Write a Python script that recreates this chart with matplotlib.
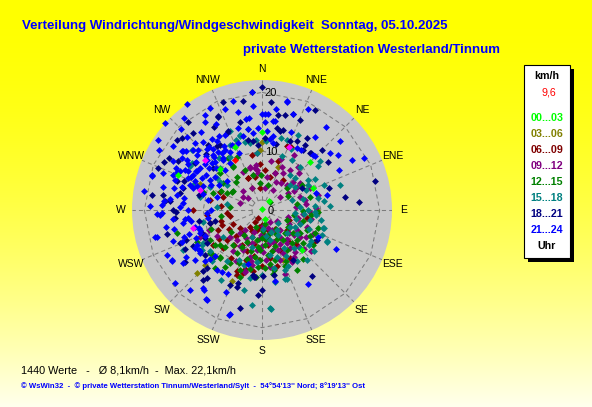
import numpy as np
import matplotlib
matplotlib.use('Agg')
import matplotlib.pyplot as plt
from matplotlib.patches import Rectangle

plt.rcParams['font.family'] = ['Liberation Sans', 'DejaVu Sans']

w_21_24 = [
    (325, 22.1), (312, 22.2), (304, 21.4), (279, 20.3), (287, 19.5), (329, 18.8), (355, 20.1),
    (13, 18.8), (24.6, 18.9), (8, 17.4), (18, 17.2), (0, 16.4), (350, 15.7), (346, 17.1),
    (352, 15.8), (275, 16.8), (267, 17.3), (268, 17.9), (268, 17.0), (256, 18.7), (255.5, 18.5),
    (241, 17.5), (236, 16.1), (216, 16.8), (212, 17.9), (217, 16.6), (197.5, 18.7), (235, 12.8),
    (148, 14.9), (116, 10.6), (170, 12.3), (48.6, 17.7), (60.7, 17.5), (62.5, 14.8), (50, 15.1),
    (54, 16.0), (42.8, 12.8), (44.7, 12.8), (33, 12.2), (76.7, 11.3), (72.7, 9.7), (29, 12.1),
    (12.8, 19.0), (7.3, 15.2), (8.3, 15.3), (3.8, 16.4), (1.8, 16.3), (3.4, 13.4), (8.7, 12.7),
    (6.5, 12.1), (9.6, 11.6),
    (307, 16.8), (306.4, 17.0), (287.7, 19.7), (290.5, 17.9), (291.7, 16.2), (295.3, 15.4),
    (297.6, 14.8), (293.5, 13.7), (289.4, 13.0), (293, 12.4), (297, 13.1), (300.7, 12.9),
    (304, 12.7), (312.3, 12.7), (313, 11.7), (318.6, 12.5), (323.3, 12.4), (324.7, 11.9),
    (323.3, 11.0), (328.5, 12.0), (335, 12.2), (340.5, 12.1), (345.8, 12.9), (350.3, 13.9),
    (353.6, 13.2), (357.4, 14.0), (272, 19.1), (273, 17.1), (275, 13.4), (270, 12.5),
    (278.7, 13.5), (304, 15.3), (301, 13.0), (318, 12.2), (329, 12.6), (326, 9.6), (295, 13.4),
    (290, 11.8), (281, 9.3), (272, 13.9), (263, 13.2), (252, 13.1), (242, 12.6), (252, 11.0),
    (260.6, 13.6), (250.5, 16.0), (244.7, 17.9), (240.7, 17.6), (264, 12.6), (261, 12.2),
    (256, 11.7), (254, 11.2), (250, 11.2), (240.4, 13.1), (238, 12.7), (236.5, 12.6), (267, 9.4),
    (270, 8.6), (211.7, 17.9), (228, 13.0), (226.9, 12.1), (217.2, 12.7), (213, 12.5), (194, 9.5),
    (197, 18.4), (310, 14.5), (315, 16.0), (320, 14.0), (308, 11.5), (300, 10.2), (296, 16.3),
    (284, 15.5), (298, 11.5), (305, 9.8), (312, 10.6), (317, 9.3), (322, 10.8), (334, 14.2),
    (338, 10.4), (332, 16.5), (340, 18.2), (344, 14.5), (315, 19.5), (320, 20.5), (300, 20.3),
    (262, 9.2), (258, 15.3), (248, 14.6), (245, 10.6), (226, 11.2), (222, 18.3), (230, 19.4),
    (204, 15.2), (208, 12.3), (286, 8.0), (300, 8.4), (310, 7.8), (118, 14.3),
    (286, 14.2), (288, 12.3), (292, 10.8), (294, 15.8), (298, 14.2), (302, 11.2), (303, 16.2),
    (306, 13.8), (309, 12.4), (311, 15.6), (314, 13.2), (316, 11.4), (319, 15.3), (321, 13.3),
    (325, 14.8), (327, 13.9), (330, 14.5), (331, 11.2), (280, 14.6), (277, 15.8), (283, 17.2),
    (289, 15.6), (299, 17.3), (306, 18.6), (314, 17.8), (260, 16.5), (264, 15.2), (247, 12.2),
    (251, 14.1), (238, 15.2), (233, 14.2), (285, 10.3), (296, 9.6), (302, 14.8), (308, 16.4),
    (318, 13.9), (313, 14.9), (322, 16.8), (327, 17.9), (333, 19.4), (345, 19.2), (2, 15.0),
    (355, 17.8), (20, 14.2), (36, 15.4), (38, 17.8), (63, 19.5),
]
w_18_21 = [
    (360, 20.9), (355, 20.2), (320, 19.5), (335, 17.5), (296, 18.6), (278, 18.9), (309.5, 18.8),
    (311.9, 18.3), (299, 18.1), (288.6, 15.3), (290, 14.2), (285.6, 13.9), (281.7, 14.2),
    (278.8, 17.0), (275.4, 15.7), (270, 15.1), (324.6, 13.3), (327.3, 13.2), (310.8, 10.9),
    (320.6, 14.4), (335.4, 14.4), (336.8, 14.6), (335, 17.6), (346, 15.5), (349, 12.2),
    (352.8, 11.8), (356.8, 11.1), (23, 16.6), (18, 17.2), (13.6, 16.6), (9.7, 16.4), (10, 14.2),
    (13, 13.7), (15, 14.0), (22.2, 12.6), (26.8, 13.1), (31.8, 14.4), (33.4, 13.3), (34.4, 12.4),
    (40, 12.7), (40.7, 12.8), (75.7, 19.8), (81, 14.3), (71.8, 12.0), (61, 7.7), (269, 14.7),
    (256, 16.7), (248, 15.0), (248.5, 13.8), (243, 14.7), (242, 13.2), (249, 11.0), (244, 10.8),
    (239, 10.9), (256, 9.1), (256.5, 8.2), (220, 15.5), (219, 14.9), (223.8, 14.4), (223.7, 13.6),
    (203, 13.8), (198, 13.8), (182.5, 14.5), (192.7, 17.0), (187, 11.4), (180, 13.6),
    (187.6, 11.2), (186, 11.4), (148, 10.0), (143, 14.1), (179, 11.3), (170, 11.3), (118.8, 10.6),
    (198, 13.0), (275, 16.6), (330, 16.2), (340, 19.5), (5, 18.5), (28, 19.2), (300, 16.5),
    (292, 19.0), (305, 14.0), (315, 13.5), (283, 11.0), (265, 14.8), (260, 10.8), (232, 12.3),
    (236, 15.8), (318, 17.5), (350, 18.8), (2, 12.3), (12, 11.5), (45, 14.5), (54, 13.8), (85, 16.5),
]
w_15_18 = [
    (343.6, 13.3), (340, 12.7), (333.8, 12.3), (310.6, 15.7), (303.8, 14.4), (301.3, 14.3),
    (305, 9.4), (304, 8.6), (305.6, 7.4), (343.4, 13.1), (346, 12.0), (329, 10.6), (294, 9.7),
    (282, 10.8), (274, 7.7), (279, 6.1), (243.4, 15.1), (240, 11.8), (224.6, 12.2), (231.5, 11.3),
    (240.4, 11.5), (236.4, 12.3), (235.4, 8.0), (193, 13.9), (186, 16.2), (175, 16.9),
    (175.3, 16.8), (170, 12.4), (161.5, 12.4), (160, 12.4), (106, 10.9), (116.5, 12.3), (50, 12.9),
    (52.2, 12.1), (61.4, 9.0), (86, 9.0), (72.4, 13.9), (20, 9.7), (30.7, 9.9), (15, 12.6),
    (19.4, 12.6), (25.8, 14.2), (350, 11.5), (355, 12.0), (3, 11.8), (143.7, 4.2), (133.3, 5.8),
    (120.8, 5.5), (95.7, 5.6), (95.5, 7.1), (101.8, 8.3), (95, 9.3), (106.6, 10.9), (116, 12.2),
    (127, 9.9), (159, 10.9), (162.5, 8.3), (38.7, 7.6), (46, 7.8), (41.3, 9.8), (57, 9.4),
    (67.8, 11.3), (78.3, 9.8), (87, 11.6), (48, 6.4), (71.4, 5.3), (92, 9.0), (112.7, 11.0),
    (135, 9.2), (150, 7.5), (140, 8.5), (125, 7.2), (110, 6.8), (170, 7.8), (185, 8.8), (195, 6.5),
    (205, 9.3), (215, 10.5), (200, 4.8), (165, 5.2), (130, 3.5), (85, 6.5), (65, 8.2), (355, 9.8),
    (320, 11.5), (315, 10.0), (290, 12.5), (258, 10.2), (176, 3.2), (155, 10.5), (210, 13.8),
    (145, 10.5), (138, 11.5), (128, 11.3), (122, 9.8), (118, 6.3), (112, 8.6), (104, 6.0),
    (100, 10.2), (90, 7.8), (82, 10.6), (75, 7.2), (60, 10.5), (55, 6.8), (168, 10.0), (180, 11.0),
    (190, 11.8), (198, 9.8), (152, 8.8), (147, 5.0), (157, 4.0), (172, 4.5), (350, 14.0),
    (338, 14.5), (25, 11.5),
]
w_12_15 = [
    (255, 15.0), (230, 11.5), (225.4, 11.6), (221, 10.8), (198, 11.9), (244, 12.3), (240, 10.2),
    (230, 9.3), (229, 11.3), (222, 10.7), (219, 12.7), (190, 5.2), (175, 6.0), (183, 6.8),
    (172, 7.7), (182.3, 8.5), (171.5, 9.2), (112, 4.5), (122.4, 5.3), (131, 7.8), (121.5, 7.6),
    (114, 8.3), (129, 9.0), (113.7, 9.8), (169, 10.4), (184, 9.7), (200, 10.9), (211, 10.6),
    (311, 9.5), (326.5, 8.8), (337, 7.4), (322.8, 7.1), (304.6, 8.0), (301, 6.0), (289, 8.8),
    (287, 10.5), (346, 6.1), (356, 4.6), (44, 2.0), (48.7, 5.6), (57.8, 8.0), (74.5, 8.5),
    (91.7, 9.6), (92, 7.0), (359, 6.0), (14, 4.4), (326.7, 10.5), (326.7, 8.9), (295, 7.6),
    (296, 6.7), (303, 5.8), (160, 6.5), (165, 8.8), (155, 9.5), (150, 4.8), (145, 6.2), (140, 10.8),
    (135, 5.5), (178, 3.5), (188, 8.0), (195, 7.2), (205, 6.0), (210, 8.5), (215, 5.2), (220, 7.8),
    (235, 6.5), (200, 3.0), (168, 2.5), (125, 10.5), (105, 7.2), (98, 5.5), (80, 6.0), (62, 5.0),
    (150, 11.8), (185, 11.5), (170, 11.0), (250, 9.2), (262, 7.0), (275, 5.5),
    (148, 8.0), (153, 5.6), (158, 10.3), (163, 4.2), (167, 7.2), (173, 5.0), (177, 9.8),
    (181, 4.8), (186, 6.3), (192, 10.2), (197, 8.7), (203, 9.8), (208, 7.2), (213, 11.5),
    (138, 7.5), (142, 4.0), (127, 6.5), (118, 9.3), (108, 10.0), (96, 8.3), (225, 9.0),
    (233, 10.0), (318, 6.5), (335, 10.0),
]
w_09_12 = [
    (334, 7.2), (344, 7.4), (353, 7.7), (350, 7.2), (27, 5.4), (36, 5.6), (44.6, 6.0), (48, 7.2),
    (55, 7.9), (249.6, 9.7), (246, 10.6), (246.7, 11.5), (223.4, 5.4), (220.4, 4.5), (220, 6.7),
    (202.4, 6.1), (205, 7.5), (194.4, 8.2), (170, 4.6), (160.4, 5.7), (146, 5.5), (154, 3.8),
    (143.4, 7.0), (143.8, 8.1), (153.8, 8.2), (146, 9.6), (120, 6.8), (109, 6.8), (110.5, 8.1),
    (125, 7.9), (344.5, 7.6), (352.5, 6.9), (8, 5.7), (19.5, 6.6), (30, 7.2), (35, 8.3), (56, 7.1),
    (70.7, 6.8), (77, 7.5), (57.6, 5.3), (53.5, 3.8), (29.5, 3.9), (8, 3.7), (334.6, 4.1),
    (287, 3.9), (305.4, 3.9), (315, 4.5), (311, 3.1), (346, 6.2), (354, 6.3), (195.5, 10.8),
    (195.4, 10.9), (165, 7.0), (175, 8.5), (180, 6.2), (185, 5.0), (190, 9.5), (200, 4.0),
    (210, 5.5), (215, 8.5), (230, 7.2), (240, 8.8), (135, 8.8), (130, 6.0), (138, 4.5), (150, 10.2),
    (160, 9.0), (115, 9.5), (100, 8.5), (95, 7.0), (88, 9.2), (85, 5.8), (65, 9.0), (60, 6.3),
    (40, 9.5), (20, 9.2), (10, 8.5), (125, 3.2), (105, 4.5), (175, 2.8), (160, 11.5), (130, 10.8),
    (145, 2.5), (30, 10.8), (355, 9.8),
    (148, 4.2), (152, 6.5), (158, 7.3), (162, 3.2), (168, 5.8), (172, 9.8), (178, 7.2), (183, 4.2),
    (187, 6.8), (192, 8.8), (197, 5.8), (207, 9.8), (212, 7.2), (118, 5.2), (122, 8.8), (128, 7.0),
    (133, 9.8), (139, 6.5), (142, 9.0), (102, 6.2), (92, 8.2), (82, 7.6), (75, 9.8), (45, 8.8),
    (25, 8.0),
]
w_06_09 = [
    (270, 11.7), (265, 9.4), (256, 9.1), (245.4, 8.2), (249.6, 7.3), (234.3, 10.2), (225.3, 9.3),
    (229.6, 7.9), (215.7, 3.5), (211, 2.3), (204, 1.5), (181, 2.6), (195, 3.5), (201, 4.9),
    (129, 5.4), (100.5, 7.7), (121.7, 10.3), (155.8, 7.5), (180, 9.6), (196.5, 11.2), (162.5, 3.6),
    (293.5, 7.8), (289, 7.0), (281, 9.0), (336.6, 5.9), (357.5, 7.9), (18.6, 8.7), (21.3, 11.6),
    (25, 11.8), (35.4, 6.3), (337, 5.9), (348, 5.8), (13.5, 5.8), (19.5, 6.6), (355, 3.8),
    (202.4, 11.3), (196, 10.5), (201.3, 11.9), (185, 6.5), (190, 8.0), (175, 5.0), (170, 8.2),
    (210, 6.8), (220, 5.2), (200, 7.5), (230, 4.8), (240, 6.5), (260, 5.5), (275, 7.0), (150, 9.5),
    (140, 6.8), (160, 5.8), (110, 4.8), (188, 10.5),
    (178, 4.0), (183, 8.5), (193, 6.0), (198, 9.0), (205, 4.0), (213, 9.8), (218, 7.6), (225, 6.2),
    (236, 8.8), (245, 5.5), (255, 7.2), (265, 6.0), (170, 6.0), (165, 9.8), (145, 4.0), (135, 8.2),
    (190, 3.0), (5, 6.8), (350, 9.5),
]
w_03_06 = [
    (0, 11.6), (334.6, 4.1), (90, 9.3), (226, 13.5), (226, 15.4), (157, 9.2), (203, 13.2),
    (292.7, 11.4), (21, 7.8), (358, 10.2),
]
w_00_03 = [
    (35.6, 1.95), (0, 0.1), (160, 1.7), (44.8, 11.6), (66.5, 9.5), (292.7, 15.4), (314.5, 10.0),
    (336.7, 11.6), (135, 9.6), (0, 13.2),
]
w_sonst = [(311.4, 12.9), (288, 11.1), (255, 12.1), (23.5, 11.6)]
w_aktuell = [(332, 9.7)]

stunden = ['00...03', '03...06', '06...09', '09...12', '12...15', '15...18', '18...21', '21...24']
farben = ['#00ff00', '#808000', '#800000', '#800080', '#008000', '#008080', '#000080', '#0000ff']
werte = [w_00_03, w_03_06, w_06_09, w_09_12, w_12_15, w_15_18, w_18_21, w_21_24]
richtungen = ['N', 'NNE', 'NE', 'ENE', 'E', 'ESE', 'SE', 'SSE',
              'S', 'SSW', 'SW', 'WSW', 'W', 'WNW', 'NW', 'NNW']

W, H = 592, 407
RMAX = 22.1


def fp(x, y):
    # Pixelposition -> Figurkoordinaten
    return x / W, 1 - y / H


fig = plt.figure(figsize=(W / 100, H / 100), dpi=100)

# Hintergrund: gelber Verlauf
bg = fig.add_axes([0, 0, 1, 1])
t = np.linspace(0, 1, H)
blau = 0.93 * t ** 1.8
grad = np.stack([np.ones_like(t), np.ones_like(t), blau], axis=1)[:, None, :]
bg.imshow(grad, aspect='auto', extent=[0, 1, 0, 1])
bg.axis('off')

# Polardiagramm
cx, cy, rad = 262, 210, 130
ax = fig.add_axes([(cx - rad) / W, (H - cy - rad) / H, 2 * rad / W, 2 * rad / H],
                  projection='polar')
ax.set_theta_zero_location('N')
ax.set_theta_direction(-1)
ax.set_ylim(0, RMAX)
ax.set_facecolor('#c8c8c8')
ax.grid(False)
ax.set_xticks([])
ax.set_yticks([])
ax.spines['polar'].set_visible(False)

gitter = dict(color='#7c7c7c', lw=0.75, ls=(0, (4, 3)))
th16 = np.deg2rad(np.arange(16) * 22.5)
for r in [10, 20]:
    ax.plot(np.append(th16, th16[0]), np.full(17, r), **gitter)
kreis = np.linspace(0, 2 * np.pi, 40)
ax.plot(kreis, np.full(40, 1.7), **gitter)
for th in th16:
    ax.plot([th, th], [1.7, RMAX], **gitter)

for daten, farbe in list(zip(werte, farben))[1:] + [(w_00_03, '#00ff00'),
                                                    (w_sonst, '#ff00ff'),
                                                    (w_aktuell, '#ff0000')]:
    d = np.array(daten)
    ax.plot(np.deg2rad(d[:, 0]), d[:, 1], ls='none', marker='D', ms=3.5,
            mfc=farbe, mec=farbe, mew=0, clip_on=False)

for i, name in enumerate(richtungen):
    ax.text(np.deg2rad(i * 22.5), 24.0, name, ha='center', va='center',
            fontsize=7.5, clip_on=False)
for v in [0, 10, 20]:
    ax.annotate(str(v), xy=(0, v), xytext=(9, -1), textcoords='offset pixels',
                ha='center', va='center', fontsize=8)

# Titel
blue = '#0000ff'
fig.text(*fp(22, 29.5), 'Verteilung Windrichtung/Windgeschwindigkeit  Sonntag, 05.10.2025',
         color=blue, fontsize=9.5, fontweight='bold', va='baseline')
fig.text(*fp(243, 53), 'private Wetterstation Westerland/Tinnum',
         color=blue, fontsize=9.5, fontweight='bold', va='baseline')

# Legende
fig.patches.append(Rectangle(fp(528, 262), 46 / W, 193 / H, transform=fig.transFigure,
                             fc='black', ec='none'))
fig.patches.append(Rectangle(fp(524, 258), 46 / W, 193 / H, transform=fig.transFigure,
                             fc='white', ec='black', lw=0.8))
fig.text(*fp(547, 76), 'km/h', fontsize=7.7, fontweight='bold', ha='center', va='center')
fig.text(*fp(548.5, 92.5), '9,6', fontsize=7.7, color='#ff0000', ha='center', va='center')
for i, (lab, farbe) in enumerate(zip(stunden, farben)):
    fig.text(*fp(547, 118.3 + i * 15.95), lab, fontsize=7.7, fontweight='bold',
             color=farbe, ha='center', va='center')
fig.text(*fp(547, 246), 'Uhr', fontsize=7.7, fontweight='bold', ha='center', va='center')

# Fusszeilen
fig.text(*fp(21, 373.5), '1440 Werte   -   Ø 8,1km/h  -  Max. 22,1km/h',
         fontsize=7.8, va='baseline')
fig.text(*fp(21, 388.5), "© WsWin32  -  © private Wetterstation Tinnum/Westerland/Sylt  -  "
         "54°54'13'' Nord; 8°19'13'' Ost", fontsize=5.6, fontweight='bold', color=blue,
         va='baseline')

fig.savefig('out.png', dpi=100)
